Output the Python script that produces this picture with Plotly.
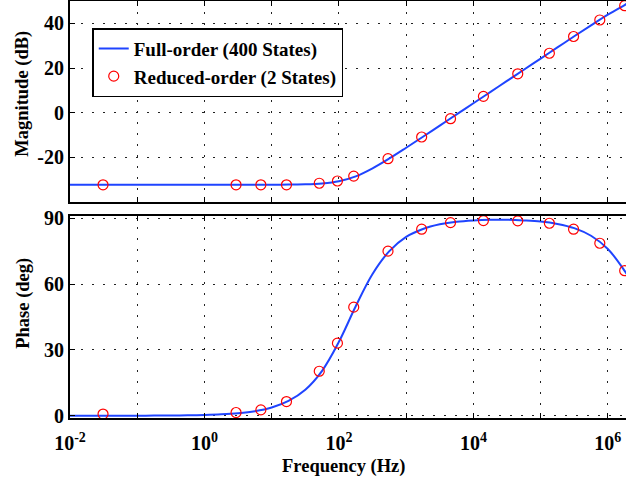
import plotly.graph_objects as go

# ---- data ----
# Full-order (400 States) response, quarter-decade samples
freq_full = [1e-2, 1.778e-2, 3.162e-2, 5.623e-2, 1e-1, 1.778e-1, 3.162e-1, 5.623e-1,
             1e0, 1.778e0, 3.162e0, 5.623e0, 1e1, 1.778e1, 3.162e1, 5.623e1,
             1e2, 1.778e2, 3.162e2, 5.623e2, 1e3, 1.778e3, 3.162e3, 5.623e3,
             1e4, 1.778e4, 3.162e4, 5.623e4, 1e5, 1.778e5, 3.162e5, 5.623e5,
             1e6, 1.778e6, 2.0e6]
mag_full = [-32.3, -32.3, -32.3, -32.3, -32.3, -32.3, -32.3, -32.3,
            -32.3, -32.3, -32.3, -32.3, -32.3, -32.2, -32.1, -31.7,
            -30.7, -28.5, -24.9, -20.5, -15.7, -10.8, -5.8, -0.8,
            4.2, 9.2, 14.2, 19.2, 24.2, 29.2, 34.2, 39.1,
            43.9, 48.2, 49.1]
phase_full = [0.0, 0.0, 0.0, 0.0, 0.0, 0.1, 0.1, 0.2,
              0.4, 0.7, 1.2, 2.1, 3.8, 6.8, 11.9, 20.5,
              33.7, 49.9, 64.6, 75.0, 81.5, 85.1, 87.2, 88.4,
              89.0, 89.3, 89.3, 89.0, 88.5, 87.4, 85.5, 82.0,
              76.0, 66.0, 63.5]

# Reduced-order (2 States) response, marker samples
freq_red = [0.031, 2.95, 6.9, 16.6, 51, 95, 166, 537, 1700, 4570,
            14100, 45700, 135000, 309000, 759000, 1780000]
mag_red = [-32.3, -32.3, -32.3, -32.3, -31.6, -30.6, -28.4, -20.6, -10.9, -2.7,
           7.3, 17.4, 26.6, 34.1, 41.5, 47.9]
phase_red = [0.8, 1.5, 2.7, 6.5, 20.3, 33.1, 49.5, 75.0, 85.0, 88.0,
             88.9, 88.8, 87.7, 85.0, 78.6, 66.1]

x_tickvals = [1e-2, 1e0, 1e2, 1e4, 1e6]
x_ticktext = ["10<sup>-2</sup>", "10<sup>0</sup>", "10<sup>2</sup>", "10<sup>4</sup>", "10<sup>6</sup>"]
x_gridvals_odd = [1e-1, 1e1, 1e3, 1e5]
x_smallticks = [m * 10.0 ** d for d in range(-2, 7) for m in range(2, 10)]
mag_ticks = [-20, 0, 20, 40]
mag_ticktext = ["-20", "0", "20", "40"]
phase_ticks = [0, 30, 60, 90]
phase_ticktext = ["0", "30", "60", "90"]

FONT = "Liberation Serif"
BLUE = "#1f44ff"
RED = "#ff0000"
XRANGE = [-2, 6.27]

fig = go.Figure()
fig.add_trace(go.Scatter(x=freq_full, y=mag_full, mode="lines", name="Full-order (400 States)",
                         line=dict(color=BLUE, width=2, shape="spline"), xaxis="x", yaxis="y"))
fig.add_trace(go.Scatter(x=freq_red, y=mag_red, mode="markers", name="Reduced-order (2 States)",
                         marker=dict(symbol="circle-open", size=10, color=RED, line=dict(width=1.2, color=RED)),
                         xaxis="x", yaxis="y"))
fig.add_trace(go.Scatter(x=freq_full, y=phase_full, mode="lines", showlegend=False,
                         line=dict(color=BLUE, width=2, shape="spline"), xaxis="x2", yaxis="y2"))
fig.add_trace(go.Scatter(x=freq_red, y=phase_red, mode="markers", showlegend=False,
                         marker=dict(symbol="circle-open", size=10, color=RED, line=dict(width=1.2, color=RED)),
                         xaxis="x2", yaxis="y2"))

grid = dict(showgrid=True, gridcolor="#222222", gridwidth=1, griddash="2px,9px")
common_x = dict(type="log", range=XRANGE, tickmode="array", tickvals=x_tickvals,
                showline=True, linecolor="black", linewidth=2, mirror="ticks",
                ticks="inside", ticklen=5, tickcolor="black", zeroline=False, automargin=False,
                minor=dict(tickmode="array", tickvals=x_gridvals_odd, ticks="inside", ticklen=5,
                           tickcolor="black", showgrid=True, gridcolor="#222222", gridwidth=1,
                           griddash="2px,9px"),
                tickfont=dict(family=FONT, size=20, color="black", weight="bold"), **grid)
small_x = dict(type="log", range=XRANGE, tickmode="array", tickvals=x_smallticks,
               showticklabels=False, showgrid=False, showline=False, zeroline=False,
               ticks="inside", ticklen=3, tickcolor="black", automargin=False)
common_y = dict(showline=True, linecolor="black", linewidth=2, mirror=False, tickmode="array",
                ticks="inside", ticklen=5, tickcolor="black", zeroline=False, automargin=False,
                tickfont=dict(family=FONT, size=20, color="black", weight="bold"), **grid)

fig.update_layout(
    width=626, height=484, autosize=False,
    margin=dict(l=70, r=0, t=1, b=66, autoexpand=False),
    plot_bgcolor="white", paper_bgcolor="white",
    xaxis=dict(anchor="y", domain=[0, 1], showticklabels=False, **common_x),
    xaxis2=dict(anchor="y2", domain=[0, 1], ticktext=x_ticktext, ticklabelstandoff=6, **common_x),
    xaxis3=dict(anchor="y", overlaying="x", side="bottom", **small_x),
    xaxis4=dict(anchor="y2", overlaying="x2", side="bottom", **small_x),
    yaxis=dict(anchor="x", domain=[0.518, 1], range=[-40, 50], tickvals=mag_ticks,
               ticktext=mag_ticktext, **common_y),
    yaxis2=dict(anchor="x2", domain=[0, 0.4844], range=[-1, 91], tickvals=phase_ticks,
                ticktext=phase_ticktext, **common_y),
    legend=dict(x=0.04, y=0.935, xanchor="left", yanchor="top", bgcolor="white",
                bordercolor="black", borderwidth=1.5, itemwidth=30,
                font=dict(family=FONT, size=19, color="black", weight="bold")),
    showlegend=True,
)

title_font = dict(family=FONT, size=18.5, color="black", weight="bold")
fig.add_annotation(text="Magnitude (dB)", xref="paper", yref="paper", x=-0.085, y=(418 - 94) / 417,
                   xanchor="center", yanchor="middle", textangle=-90, showarrow=False, font=title_font)
fig.add_annotation(text="Phase (deg)", xref="paper", yref="paper", x=-0.085, y=(418 - 303) / 417,
                   xanchor="center", yanchor="middle", textangle=-90, showarrow=False, font=title_font)
fig.add_annotation(text="Frequency (Hz)", xref="paper", yref="paper", x=(343 - 70) / 556, y=(418 - 466) / 417,
                   xanchor="center", yanchor="middle", showarrow=False, font=title_font)

fig.write_html("out.html")
